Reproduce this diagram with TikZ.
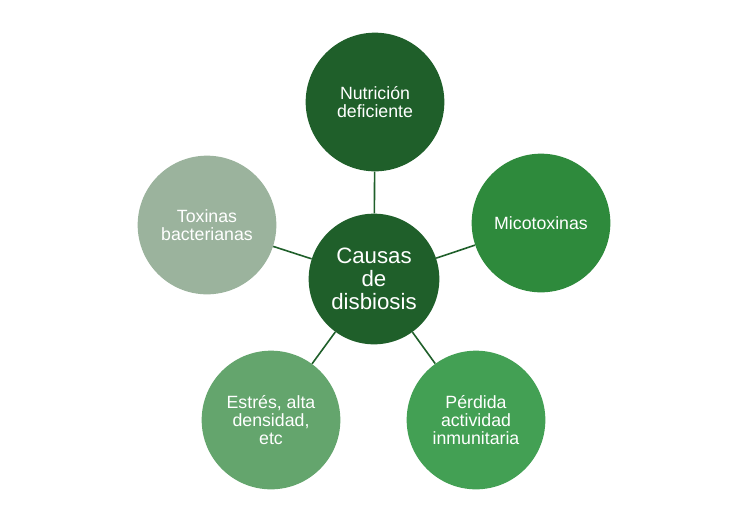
\documentclass[tikz,border=0pt]{standalone}
\usepackage{fontspec}
\setmainfont{Liberation Sans}
\definecolor{verdeosc}{HTML}{1F5F2A}
\definecolor{verdemed}{HTML}{2E8A3C}
\definecolor{verdeclr}{HTML}{43A054}
\definecolor{verdesua}{HTML}{64A56D}
\definecolor{verdegris}{HTML}{9BB39D}
\begin{document}
\begin{tikzpicture}[x=0.75pt,y=-0.75pt,
  causa/.style={circle,minimum size=104pt,inner sep=0pt,text=white,align=center,
    font=\fontsize{13.3}{13.8}\selectfont},
  centro/.style={circle,fill=verdeosc,minimum size=98pt,inner sep=0pt,text=white,align=center,
    font=\fontsize{16.7}{17.2}\selectfont},
  enlace/.style={draw=verdeosc,line width=1.2pt}]
  \useasboundingbox (0,0) rectangle (750,526);

  % nodo central
  \node[centro] (C) at (374,279) {Causas\\de\\disbiosis};

  % causas alrededor
  \node[causa,fill=verdeosc]  (N) at (375,102) {Nutrición\\deficiente};
  \node[causa,fill=verdemed]  (M) at (541,223) {Micotoxinas};
  \node[causa,fill=verdeclr]  (P) at (476,420) {Pérdida\\actividad\\inmunitaria};
  \node[causa,fill=verdesua]  (E) at (271,420) {Estrés, alta\\densidad,\\etc};
  \node[causa,fill=verdegris] (T) at (207,225) {Toxinas\\bacterianas};

  % enlaces
  \foreach \n in {N,M,P,E,T}
    \draw[enlace] (C) -- (\n);
\end{tikzpicture}
\end{document}
